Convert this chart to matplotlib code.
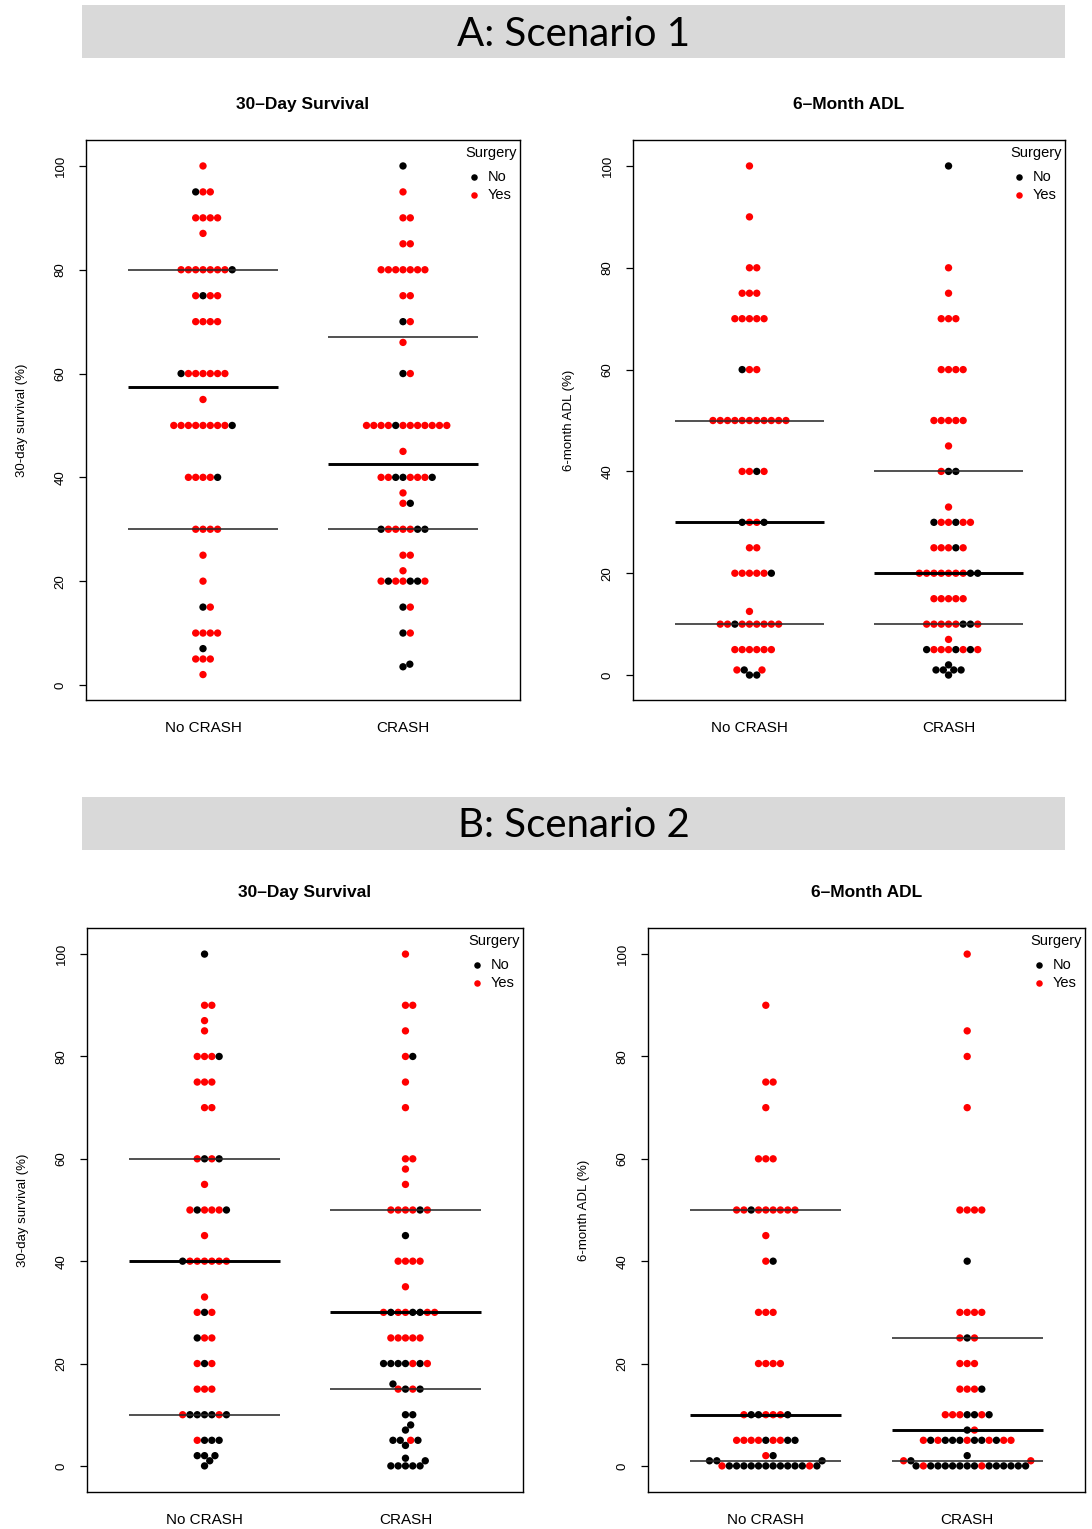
import numpy as np
import matplotlib
matplotlib.use("Agg")
import matplotlib.pyplot as plt
from matplotlib.patches import Rectangle

plt.rcParams['font.family'] = ['Liberation Sans', 'DejaVu Sans']

# ---- data: one entry per row of dots, colours read left to right (r = surgery yes, k = no)
groups = ["No CRASH", "CRASH"]
legend_labels = ["No", "Yes"]

a1_nc_vals = [100, 95, 90, 87, 80, 75, 70, 60, 55, 50, 40, 30, 25, 20, 15, 10, 7, 5, 2]
a1_nc_cols = ["r", "krr", "rrrr", "r", "rrrrrrrk", "rkrr", "rrrr", "krrrrrr", "r",
              "rrrrrrrrk", "rrrrk", "rrrr", "r", "r", "kr", "rrrr", "k", "rrr", "r"]
a1_nc_q = [30, 57.5, 80]

a1_cr_vals = [100, 95, 90, 85, 80, 75, 70, 66, 60, 50, 45, 40, 37, 35, 30, 25, 22, 20,
              15, 10, 4, 3.5]
a1_cr_cols = ["k", "r", "rr", "rr", "rrrrrrr", "rr", "kr", "r", "kr", "rrrrkrrrrrrr", "r",
              "rrkkrrrk", "r", "rk", "krrrrkk", "rr", "r", "rkrrkkr", "kr", "kr", "k", "k"]
a1_cr_q = [30, 42.5, 67]

a2_nc_vals = [100, 90, 80, 75, 70, 60, 50, 40, 30, 25, 20, 12.5, 10, 5, 1, 0]
a2_nc_cols = ["r", "r", "rr", "rrr", "rrrrr", "krr", "rrrrrrrrrrr", "rrkr", "krrk", "rr",
              "rrrrrk", "r", "rrkrrrrrr", "rrrrrr", "rkr", "kk"]
a2_nc_q = [10, 30, 50]

a2_cr_vals = [100, 80, 75, 70, 60, 50, 45, 40, 33, 30, 25, 20, 15, 10, 7, 5, 2, 1, 0]
a2_cr_cols = ["k", "r", "r", "rrr", "rrrr", "rrrrr", "r", "rkk", "r", "krrkrr", "rrrkr",
              "rrrrrrrkk", "rrrrr", "rrrrrkkr", "r", "krrrkrkr", "k", "kkkk", "k"]
a2_cr_q = [10, 20, 40]

b1_nc_vals = [100, 90, 87, 85, 80, 75, 70, 60, 55, 50, 45, 40, 33, 30, 25, 20, 15, 10, 5,
              2, 1, 0]
b1_nc_cols = ["k", "rr", "r", "r", "rrrk", "rrr", "rr", "rkrk", "r", "rkrrrk", "r",
              "krrrrrr", "r", "rkr", "krr", "rkr", "rrr", "rkkkkrk", "rkkk", "kkk", "k", "k"]
b1_nc_q = [10, 40, 60]

b1_cr_vals = [100, 90, 85, 80, 75, 70, 60, 58, 55, 50, 45, 40, 35, 30, 25, 20, 16, 15, 10,
              8, 7, 5, 4, 1.5, 1, 0]
b1_cr_cols = ["r", "rr", "r", "rk", "r", "r", "rr", "r", "r", "rrrrkr", "k", "rrrr", "r",
              "rkrrkkrr", "rrrrr", "kkkkrkr", "k", "rkrk", "kk", "k", "k", "kkrk", "k", "k",
              "k", "kkkkk"]
b1_cr_q = [15, 30, 50]

b2_nc_vals = [90, 75, 70, 60, 50, 45, 40, 30, 20, 10, 5, 2, 1, 0]
b2_nc_cols = ["r", "rr", "r", "rrr", "rrkrrrrrr", "r", "rk", "rrr", "rrrr", "rkkrrrk",
              "rrrrkrrkk", "rk", "kkk", "rkkkkkkkkkkkrk"]
b2_nc_q = [1, 10, 50]

b2_cr_vals = [100, 85, 80, 70, 50, 40, 30, 25, 20, 15, 10, 7, 5, 2, 1, 0]
b2_cr_cols = ["r", "r", "r", "r", "rrrr", "k", "rrrr", "rkr", "rrr", "rrrk", "rrrkkrk", "kr",
              "rkrkkkrkkrkrr", "k", "rkr", "krkkkkkkkrkkkkkk"]
b2_cr_q = [1, 7, 25]

COLORS = {"r": "#ff0000", "k": "#000000"}
W, H = 1092, 1529
DOT = 7.3  # dot spacing in pixels


def swarm(ax, xc, vals, cols):
    """Place points like R beeswarm(method='swarm'), in display pixels."""
    trans = ax.transData
    cx = trans.transform((xc, 0))[0]
    pts = [v for v, c in zip(vals, cols) for _ in c]
    placed = []
    for v in sorted(pts):
        y = trans.transform((xc, v))[1]
        cands = [0.0]
        for px, py, _ in placed:
            dy = abs(py - y)
            if dy < DOT:
                dx = np.sqrt(DOT ** 2 - dy ** 2)
                cands += [px + dx, px - dx]
        ok = [c for c in cands
              if all((c - px) ** 2 + (y - py) ** 2 >= DOT ** 2 - 1e-6
                     for px, py, _ in placed)]
        best = min(ok, key=lambda c: (round(abs(c), 6), -c))
        placed.append((best, y, v))
    xs, ys, cs = [], [], []
    inv = ax.transData.inverted()
    for v, c in zip(vals, cols):
        row = sorted([p for p in placed if p[2] == v], key=lambda p: p[0])
        for (off, y, _), ch in zip(row, c):
            dx, dy = inv.transform((cx + off, y))
            xs.append(dx)
            ys.append(dy)
            cs.append(COLORS[ch])
    ax.scatter(xs, ys, s=28, c=cs, linewidths=0, zorder=2)


def legend(ax, w, h):
    # pixel offsets from the top-right corner of the axes
    ax.text(1 - 3 / w, 1 - 13 / h, "Surgery", transform=ax.transAxes, ha="right",
            va="center", fontsize=10.5)
    for k, (lab, ch) in enumerate(zip(legend_labels, ["k", "r"])):
        y = 1 - (37 + 18 * k) / h
        ax.scatter([1 - 46 / w], [y], s=22, c=COLORS[ch], linewidths=0,
                   transform=ax.transAxes, clip_on=False)
        ax.text(1 - 32 / w, y, lab, transform=ax.transAxes, ha="left", va="center",
                fontsize=10.5)


def panel(rect, ylim, title, ylabel, columns):
    l, t, r, b = rect
    w, h = r - l, b - t
    ax = fig.add_axes([l / W, 1 - b / H, w / W, h / H])
    ax.set_xlim(0.415, 2.585)
    ax.set_ylim(*ylim)
    for i, (vals, cols, q) in enumerate(columns):
        xc = i + 1
        swarm(ax, xc, vals, cols)
        for k, qv in enumerate(q):
            thick = k == 1
            ax.plot([xc - 0.375, xc + 0.375], [qv, qv],
                    color="#000000" if thick else "#2a2a2a",
                    lw=2.1 if thick else 1.15, zorder=3, solid_capstyle="butt")
    ax.set_xticks([1, 2])
    ax.set_xticklabels(groups, fontsize=11)
    ax.tick_params(axis="x", length=0, pad=15)
    ax.set_yticks([0, 20, 40, 60, 80, 100])
    ax.tick_params(axis="y", length=5, width=0.9, pad=9, labelsize=9.5, labelrotation=90)
    for lab in ax.get_yticklabels():
        lab.set_va("center")
    for sp in ax.spines.values():
        sp.set_linewidth(1.0)
    ax.set_title(title, fontsize=12.5, fontweight="bold", pad=22)
    ax.set_ylabel(ylabel, fontsize=9.5)
    ax.yaxis.set_label_coords(-58 / w, 0.5)
    legend(ax, w, h)
    return ax


fig = plt.figure(figsize=(W / 100, H / 100), dpi=100)

for top, label in [(5, "A: Scenario 1"), (797, "B: Scenario 2")]:
    fig.patches.append(Rectangle((82 / W, 1 - (top + 53) / H), (1065 - 82) / W, 53 / H,
                                 transform=fig.transFigure, facecolor="#d9d9d9",
                                 edgecolor="none"))
    fig.text(573.5 / W, 1 - (top + 29) / H, label, ha="center", va="center",
             fontsize=29, family=["Lato", "DejaVu Sans"])

panel((86, 140, 520, 700), (-2.9, 105.0), "30–Day Survival", "30-day survival (%)",
      [(a1_nc_vals, a1_nc_cols, a1_nc_q), (a1_cr_vals, a1_cr_cols, a1_cr_q)])
panel((633, 140, 1065, 700), (-4.9, 105.1), "6–Month ADL", "6-month ADL (%)",
      [(a2_nc_vals, a2_nc_cols, a2_nc_q), (a2_cr_vals, a2_cr_cols, a2_cr_q)])
panel((87, 928, 523, 1492), (-5.1, 105.1), "30–Day Survival", "30-day survival (%)",
      [(b1_nc_vals, b1_nc_cols, b1_nc_q), (b1_cr_vals, b1_cr_cols, b1_cr_q)])
panel((648, 928, 1085, 1492), (-5.1, 105.1), "6–Month ADL", "6-month ADL (%)",
      [(b2_nc_vals, b2_nc_cols, b2_nc_q), (b2_cr_vals, b2_cr_cols, b2_cr_q)])

fig.savefig("out.png", dpi=100)
